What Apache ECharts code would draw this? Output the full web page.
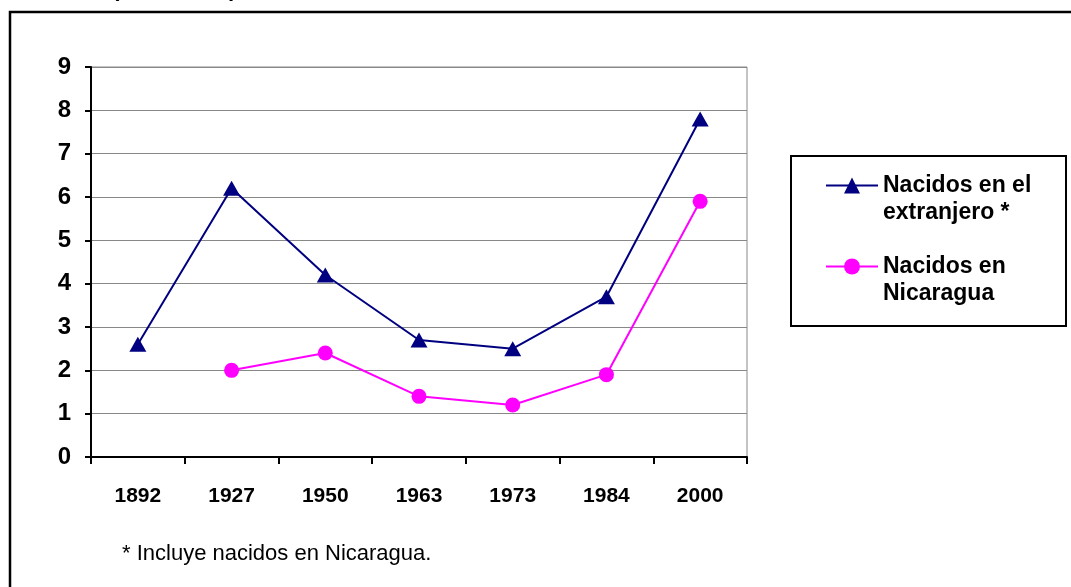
<!DOCTYPE html>
<html>
<head>
<meta charset="utf-8">
<script src="https://cdn.jsdelivr.net/npm/echarts@6/dist/echarts.min.js"></script>
<style>
html,body{margin:0;padding:0;background:#fff;}
#chart{width:1071px;height:587px;}
</style>
</head>
<body>
<div id="chart"></div>
<script>
const years = ['1892', '1927', '1950', '1963', '1973', '1984', '2000'];
const extranjero = [2.6, 6.2, 4.2, 2.7, 2.5, 3.7, 7.8];
const nicaragua = [null, 2.0, 2.4, 1.4, 1.2, 1.9, 5.9];
const yTicks = [0, 1, 2, 3, 4, 5, 6, 7, 8, 9];
const seriesNames = ['Nacidos en el extranjero *', 'Nacidos en Nicaragua'];
const legendLines = {
  'Nacidos en el extranjero *': ['Nacidos en el', 'extranjero *'],
  'Nacidos en Nicaragua': ['Nacidos en', 'Nicaragua']
};
const footnote = '* Incluye nacidos en Nicaragua.';
const topText = '(% del total)';

const FONT = '"Liberation Sans", Arial, sans-serif';
const chart = echarts.init(document.getElementById('chart'), null, {renderer: 'canvas'});
chart.setOption({
  backgroundColor: '#ffffff',
  animation: false,
  grid: {
    left: 91, right: 324, top: 67, bottom: 130,
    show: true, borderColor: '#888888', borderWidth: 1, backgroundColor: 'transparent'
  },
  xAxis: {
    type: 'category',
    data: years,
    boundaryGap: true,
    axisLine: {show: true, lineStyle: {color: '#000', width: 2}},
    axisTick: {show: true, length: 7, inside: false, lineStyle: {color: '#000', width: 2}},
    axisLabel: {margin: 29, color: '#000', fontFamily: FONT, fontWeight: 'bold', fontSize: 21},
    splitLine: {show: false}
  },
  yAxis: {
    type: 'value',
    min: yTicks[0], max: yTicks[yTicks.length - 1], interval: 1,
    axisLine: {show: true, lineStyle: {color: '#000', width: 2}},
    axisTick: {show: true, length: 6, lineStyle: {color: '#000', width: 2}},
    axisLabel: {margin: 20, color: '#000', fontFamily: FONT, fontWeight: 'bold', fontSize: 24},
    splitLine: {show: true, lineStyle: {color: '#888888', width: 1}}
  },
  legend: {
    orient: 'vertical',
    left: 820, top: 140,
    itemWidth: 52, itemHeight: 20, itemGap: 0,
    data: seriesNames,
    formatter: function (name) { return '\n' + legendLines[name].join('\n'); },
    textStyle: {color: '#000', fontFamily: FONT, fontWeight: 'bold', fontSize: 23, lineHeight: 27},
    selectedMode: false
  },
  graphic: [
    {type: 'rect', shape: {x: 10, y: 12, width: 1100, height: 620}, style: {fill: 'none', stroke: '#000', lineWidth: 2.5}, z: 0, silent: true},
    {type: 'rect', shape: {x: 791, y: 156, width: 275, height: 170}, style: {fill: 'none', stroke: '#000', lineWidth: 2}, z: 0, silent: true},
    {type: 'text', left: 122, top: 543, style: {text: footnote, fill: '#000', font: '22px ' + FONT}, silent: true},
    {type: 'text', left: 112, top: -21, style: {text: topText, fill: '#000', font: 'bold 22px ' + FONT}, silent: true}
  ],
  series: [
    {
      name: seriesNames[0], type: 'line', data: extranjero,
      symbol: 'triangle', symbolSize: [17, 15],
      lineStyle: {color: '#000080', width: 2}, itemStyle: {color: '#000080'},
      connectNulls: false, z: 3
    },
    {
      name: seriesNames[1], type: 'line', data: nicaragua,
      symbol: 'circle', symbolSize: 15,
      lineStyle: {color: '#FF00FF', width: 2}, itemStyle: {color: '#FF00FF'},
      connectNulls: false, z: 2
    }
  ]
});
</script>
</body>
</html>
